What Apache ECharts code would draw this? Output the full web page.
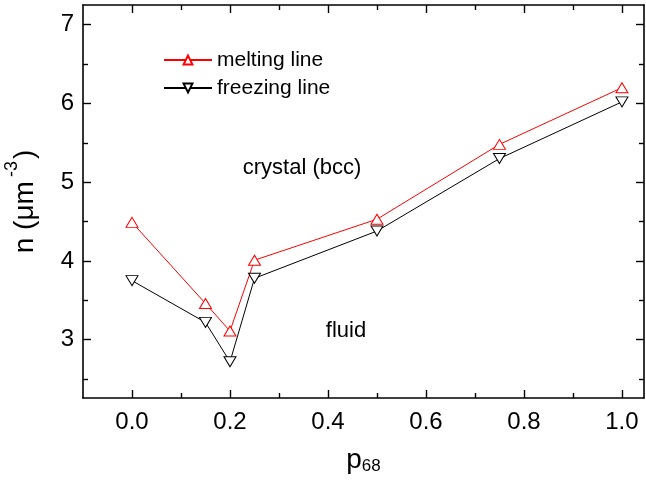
<!DOCTYPE html>
<html lang="en">

<head>
    <meta charset="UTF-8">
    <title>melting and freezing line</title>
    <style>
        html,
        body {
            margin: 0;
            padding: 0;
            background: #fff;
        }
    </style>
</head>

<body>
    <div id="main" style="width: 646px;height:481px;"></div>
    <script src="https://cdn.jsdelivr.net/npm/echarts@6/dist/echarts.min.js"></script>
    <script type="text/javascript">
        // values
        var p68 = [0, 0.15, 0.2, 0.25, 0.5, 0.75, 1.0];
        var melting = [4.49, 3.46, 3.11, 4.01, 4.53, 5.48, 6.20];
        var freezing = [3.75, 3.22, 2.72, 3.78, 4.38, 5.30, 6.02];

        var xMajor = [0, 0.2, 0.4, 0.6, 0.8, 1.0];
        var xMinor = [0.1, 0.3, 0.5, 0.7, 0.9];
        var yMajor = [3, 4, 5, 6, 7];
        var yMinor = [2.5, 3.5, 4.5, 5.5, 6.5];

        var font = 'Liberation Sans, Arial, sans-serif';
        var xRange = [-0.1, 1.045];
        var yRange = [2.26, 7.25];

        function axis(pos, grid, range, ticks, len, opts) {
            opts = opts || {};
            return {
                type: 'value',
                gridIndex: grid,
                position: pos,
                min: range[0],
                max: range[1],
                axisLine: { show: !!opts.line, onZero: false, lineStyle: { color: '#000', width: 1.6 } },
                axisTick: {
                    show: true, inside: true, length: len, customValues: ticks,
                    lineStyle: { color: '#000', width: 1.4 }
                },
                axisLabel: opts.labels ? {
                    show: true, customValues: opts.labels, color: '#000',
                    fontFamily: font, fontSize: 24, margin: opts.margin,
                    formatter: opts.fmt
                } : { show: false },
                splitLine: { show: false }
            };
        }

        var xAxes = [
            axis('bottom', 0, xRange, xMajor, 8, {
                line: true, labels: xMajor, margin: 12,
                fmt: function (v) { return v.toFixed(1); }
            }),
            axis('top', 0, xRange, xMajor, 8, { line: true }),
            axis('bottom', 1, xRange, xMinor, 5),
            axis('top', 1, xRange, xMinor, 5)
        ];
        xAxes[0].name = 'p{sub|68}';
        xAxes[0].nameLocation = 'middle';
        xAxes[0].nameGap = 48;
        xAxes[0].nameTextStyle = {
            color: '#000', fontFamily: font, fontSize: 28,
            rich: { sub: { fontSize: 17, fontFamily: font, color: '#000', verticalAlign: 'bottom', padding: [12, 0, 0, 0] } }
        };

        var yAxes = [
            axis('left', 0, yRange, yMajor, 8, {
                line: true, labels: yMajor, margin: 9,
                fmt: function (v) { return String(v); }
            }),
            axis('right', 0, yRange, yMajor, 8, { line: true }),
            axis('left', 1, yRange, yMinor, 5),
            axis('right', 1, yRange, yMinor, 5)
        ];
        yAxes[0].name = 'n (μm{sup|-3})';
        yAxes[0].nameLocation = 'middle';
        yAxes[0].nameRotate = 90;
        yAxes[0].nameGap = 36;
        yAxes[0].nameMoveOverlap = false;
        yAxes[0].nameTextStyle = {
            color: '#000', fontFamily: font, fontSize: 28,
            rich: { sup: { fontSize: 18, fontFamily: font, color: '#000', verticalAlign: 'top', padding: [0, 2, 26, 4] } }
        };

        function pairs(xs, ys) {
            return xs.map(function (x, i) { return [x, ys[i]]; });
        }

        var myChart = echarts.init(document.getElementById('main'));
        var option = {
            animation: false,
            grid: [
                { left: 83, right: 2, top: 5, bottom: 83, outerBoundsMode: 'none', containLabel: false },
                { left: 83, right: 2, top: 5, bottom: 83, outerBoundsMode: 'none', containLabel: false }
            ],
            xAxis: xAxes,
            yAxis: yAxes,
            legend: {
                orient: 'vertical',
                left: 158,
                top: 43,
                itemWidth: 48,
                itemHeight: 11,
                itemGap: 4,
                textStyle: { color: '#000', fontFamily: font, fontSize: 21, lineHeight: 24 },
                data: ['melting line', 'freezing line']
            },
            graphic: [
                {
                    type: 'text', x: 302, y: 168,
                    style: { text: 'crystal (bcc)', fill: '#000', font: '22px ' + font, align: 'center', verticalAlign: 'middle' }
                },
                {
                    type: 'text', x: 346, y: 331,
                    style: { text: 'fluid', fill: '#000', font: '22px ' + font, align: 'center', verticalAlign: 'middle' }
                }
            ],
            series: [{
                name: 'melting line',
                type: 'line',
                data: pairs(p68, melting),
                symbol: 'triangle',
                symbolSize: [12, 10],
                lineStyle: { color: '#ff0000', width: 1 },
                itemStyle: { color: '#fff', borderColor: '#ff0000', borderWidth: 1 }
            }, {
                name: 'freezing line',
                type: 'line',
                data: pairs(p68, freezing),
                symbol: 'triangle',
                symbolRotate: 180,
                symbolSize: [12, 10],
                lineStyle: { color: '#000', width: 1 },
                itemStyle: { color: '#fff', borderColor: '#000', borderWidth: 1 }
            }]
        };
        myChart.setOption(option);
    </script>
</body>

</html>
